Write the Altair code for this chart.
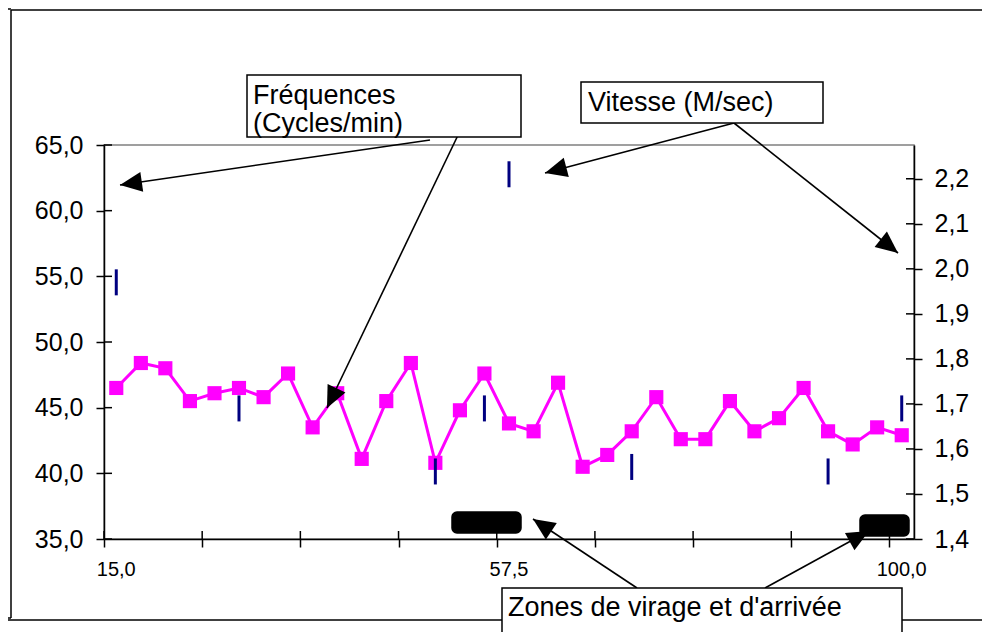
import math
import altair as alt
import pandas as pd

# ---------------- data ----------------
distances = [15.00, 17.66, 20.31, 22.97, 25.63, 28.28, 30.94, 33.59, 36.25, 38.91,
             41.56, 44.22, 46.88, 49.53, 52.19, 54.84, 57.50, 60.16, 62.81, 65.47,
             68.13, 70.78, 73.44, 76.09, 78.75, 81.41, 84.06, 86.72, 89.38, 92.03,
             94.69, 97.34, 100.00]
frequences = [46.5, 48.4, 48.0, 45.5, 46.1, 46.5, 45.8, 47.6, 43.5, 46.1,
              41.1, 45.5, 48.4, 40.8, 44.8, 47.6, 43.8, 43.2, 46.9, 40.5,
              41.4, 43.2, 45.8, 42.6, 42.6, 45.5, 43.2, 44.2, 46.5, 43.2,
              42.2, 43.5, 42.9]
speed_dist = [15.00, 28.28, 49.53, 54.84, 57.50, 70.78, 92.03, 100.00]
speed_vals = [1.97, 1.69, 1.55, 1.69, 2.21, 1.56, 1.55, 1.69]
freq_ticks = [35, 40, 45, 50, 55, 60, 65]
speed_ticks = [1.4, 1.5, 1.6, 1.7, 1.8, 1.9, 2.0, 2.1, 2.2]
x_labels = [15.0, 57.5, 100.0]

FONT = "Liberation Sans"
W, H = 810, 394
MAGENTA = "#FF00FF"
NAVY = "#000080"

step = (distances[-1] - distances[0]) / (len(distances) - 1)
x_lo = distances[0] - step / 2
x_hi = distances[-1] + step / 2
edges = [x_lo + 4 * k * step for k in range(9)]

xscale = alt.Scale(domain=[x_lo, x_hi], nice=False, zero=False)
yscale_l = alt.Scale(domain=[35, 65], nice=False, zero=False)
yscale_r = alt.Scale(domain=[1.4, 2.275], nice=False, zero=False)

comma = "replace(format(datum.value, '.1f'), '.', ',')"
x_axis = alt.Axis(values=edges, labels=False, tickSize=8, title=None, grid=False)
left_axis = alt.Axis(values=freq_ticks, labelExpr=comma, tickSize=8, labelPadding=13,
                     labelFontSize=25, title=None, grid=False, orient="left")
right_axis = alt.Axis(values=speed_ticks, labelExpr=comma, tickSize=8, labelPadding=12,
                      labelFontSize=25, title=None, grid=False, orient="right")

freq_df = pd.DataFrame({"dist": distances, "freq": frequences})
speed_df = pd.DataFrame({"dist": speed_dist, "speed": speed_vals})
edge_df = pd.DataFrame({"e": edges})
fticks_df = pd.DataFrame({"t": freq_ticks})
sticks_df = pd.DataFrame({"t": speed_ticks})
xlab_df = pd.DataFrame({"v": x_labels,
                        "lab": [f"{v:.1f}".replace(".", ",") for v in x_labels]})

X = alt.X("dist:Q", scale=xscale, axis=x_axis)
Y = alt.Y("freq:Q", scale=yscale_l, axis=left_axis)

line = alt.Chart(freq_df).mark_line(color=MAGENTA, strokeWidth=3).encode(x=X, y=Y)
pts = alt.Chart(freq_df).mark_point(shape="square", filled=True, size=200, opacity=1,
                                    color=MAGENTA).encode(x=X, y=Y)
left_in = alt.Chart(fticks_df).mark_rule(color="black", strokeWidth=1.5).encode(
    y=alt.Y("t:Q", scale=yscale_l, axis=left_axis), x=alt.value(0), x2=alt.value(8))
bottom_in = alt.Chart(edge_df).mark_rule(color="black", strokeWidth=1.5).encode(
    x=alt.X("e:Q", scale=xscale, axis=x_axis), y=alt.value(H - 8), y2=alt.value(H))
xlabels = alt.Chart(xlab_df).mark_text(font=FONT, fontSize=20, color="black",
                                       baseline="middle", align="center").encode(
    x=alt.X("v:Q", scale=xscale, axis=x_axis), y=alt.value(H + 31), text="lab:N")

freq_group = alt.layer(line, pts, left_in, bottom_in, xlabels)

speed_tick = alt.Chart(speed_df).mark_tick(orient="vertical", size=26, thickness=3,
                                           color=NAVY, opacity=1).encode(
    x=alt.X("dist:Q", scale=xscale, axis=x_axis),
    y=alt.Y("speed:Q", scale=yscale_r, axis=right_axis))
right_in = alt.Chart(sticks_df).mark_rule(color="black", strokeWidth=1.5).encode(
    y=alt.Y("t:Q", scale=yscale_r, axis=right_axis), x=alt.value(W - 8), x2=alt.value(W))
speed_group = alt.layer(speed_tick, right_in)

# ---------------- annotations (pixel positions relative to plot area) ----------------
one = pd.DataFrame({"k": [0]})


def rule(x1, y1, x2, y2, w=1.5):
    return alt.Chart(one).mark_rule(color="black", strokeWidth=w).encode(
        x=alt.value(x1), y=alt.value(y1), x2=alt.value(x2), y2=alt.value(y2))


def box(x1, y1, x2, y2, fill="white", radius=0):
    kw = dict(fill=fill, stroke="black", strokeWidth=1.5)
    if radius:
        kw["cornerRadius"] = radius
    return alt.Chart(one).mark_rect(**kw).encode(
        x=alt.value(x1), y=alt.value(y1), x2=alt.value(x2), y2=alt.value(y2))


def label(txt, x, y, size=27):
    return alt.Chart(one).mark_text(text=txt, font=FONT, fontSize=size, color="black",
                                    align="left", baseline="alphabetic").encode(
        x=alt.value(x), y=alt.value(y))


ARROW = "M0,0L-0.9,2L0.9,2Z"


def arrow(x1, y1, x2, y2):
    ang = (math.degrees(math.atan2(x2 - x1, -(y2 - y1))) + 360) % 360
    head = alt.Chart(one).mark_point(shape=ARROW, size=484, filled=True, color="black",
                                     opacity=1, angle=ang, strokeWidth=0).encode(
        x=alt.value(x2), y=alt.value(y2))
    return [rule(x1, y1, x2, y2, 1.6), head]


ann = []
# outer frame
ann += [rule(-93, -135, 886, -135), rule(-93, -135, -93, 473), rule(-104, 475, 886, 475),
        rule(-104, -136, -93, -136), rule(-104, 473, -93, 473)]
# black zone markers
ann += [box(348, 367, 417, 388, fill="black", radius=5),
        box(756, 370, 805, 391, fill="black", radius=5)]
# arrows
ann += arrow(326, -5, 16, 40)
ann += arrow(356, -14, 223, 263)
ann += arrow(630, -22, 441, 28)
ann += arrow(630, -22, 794, 108)
ann += arrow(533, 443, 429, 374)
ann += arrow(661, 443, 765, 386)
# text boxes
ann += [box(143, -70, 417, -8), label("Fréquences", 149, -41), label("(Cycles/min)", 149, -13)]
ann += [box(477, -63, 719, -22), label("Vitesse (M/sec)", 484, -34)]
ann += [box(398, 443, 798, 495), label("Zones de virage et d'arrivée", 404, 471)]

chart = alt.layer(freq_group, speed_group, *ann).resolve_scale(y="independent").properties(
    width=W, height=H,
    autosize=alt.AutoSizeParams(type="none"),
    padding={"left": 96, "top": 137, "right": 68, "bottom": 93},
).configure_view(stroke="#808080", strokeWidth=1.5).configure_axis(
    labelFont=FONT, labelColor="black", domainColor="black", tickColor="black",
    domainWidth=1.5, tickWidth=1.5, grid=False)

chart.save("out.html", embed_options={"renderer": "svg", "actions": False})
